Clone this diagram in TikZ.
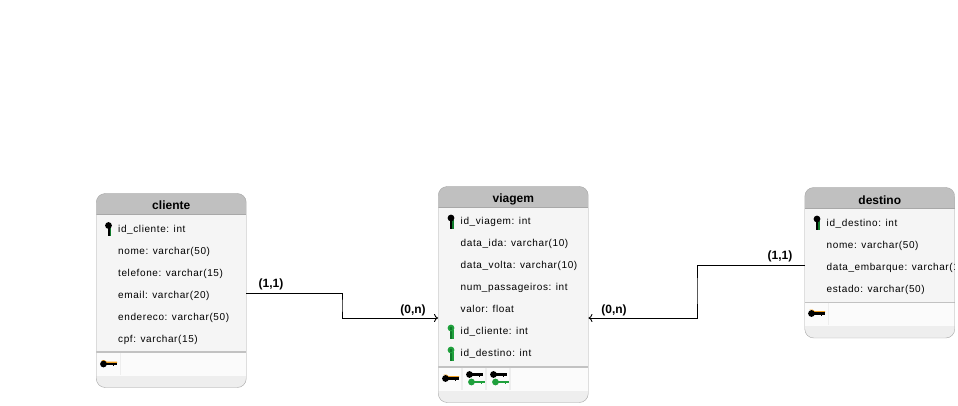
\documentclass[tikz,border=0pt]{standalone}
\usepackage{fontspec}
\setmainfont{Liberation Sans}
\newfontfamily\attrfont[LetterSpace=6]{Liberation Sans}
\usetikzlibrary{positioning, arrows.meta}

\definecolor{headgray}{HTML}{C0C0C0}
\definecolor{linegray}{HTML}{A8A8A8}
\definecolor{bodygray}{HTML}{F5F5F5}
\definecolor{footgray}{HTML}{EEEEEE}
\definecolor{cellwhite}{HTML}{FBFBFB}
\definecolor{keygreen}{HTML}{1FA03C}
\definecolor{pkgreen}{HTML}{0F7A2A}
\definecolor{keyorange}{HTML}{F0A020}

\tikzset{
  tablebox/.style={draw=linegray, fill=bodygray, rounded corners=9pt, minimum width=150pt, inner sep=0pt,
    path picture={
      \begin{scope}[sharp corners]
      \fill[headgray] (path picture bounding box.north west) rectangle ([yshift=-21pt]path picture bounding box.north east);
      \fill[linegray] ([yshift=-21pt]path picture bounding box.north west) rectangle ([yshift=-22pt]path picture bounding box.north east);
      \fill[footgray] (path picture bounding box.south west) rectangle ([yshift=12pt]path picture bounding box.south east);
      \fill[cellwhite] ([yshift=12pt]path picture bounding box.south west) rectangle ([yshift=35pt]path picture bounding box.south east);
      \fill[linegray!70] ([yshift=35pt]path picture bounding box.south west) rectangle ([yshift=36.5pt]path picture bounding box.south east);
      \end{scope}
    }},
  title/.style={font=\fontsize{12}{14}\selectfont\bfseries, inner sep=0pt},
  attr/.style={font=\attrfont\fontsize{10}{11}\selectfont, inner sep=0pt, text height=8pt, text depth=2.5pt, anchor=west},
  nextattr/.style={attr, below=22pt of #1.west, anchor=west},
  card/.style={font=\fontsize{12}{14}\selectfont\bfseries, inner sep=0pt},
  link/.style={draw=black, line width=0.9pt, -{To[length=4pt,width=8pt]}},
  cellsep/.style={draw=footgray, line width=1.5pt},
  pkey/.pic={
    \fill[pkgreen] (0.8,-2) rectangle (2.6,7);
    \fill[black] (-1,-3) rectangle (1,7);
    \fill[black] (0,-3.5) circle (3.4);
  },
  fkey/.pic={
    \fill[keygreen] (0.8,-2) rectangle (2.8,7);
    \fill[pkgreen] (-1.2,-3) rectangle (1,7);
    \fill[keygreen] (0,-3.5) circle (3.4);
    \fill[pkgreen] (-0.8,-5) rectangle (0.8,-2);
  },
  hkey/.pic={
    \fill[#1] (-4,0) circle (3.4);
    \fill[#1] (-2,-1.4) rectangle (9,1.4);
    \fill[#1] (5,1) rectangle (6.5,2.4);
  },
  hkey/.default=black,
  ukey/.pic={
    \fill[keyorange] (-6,-3.8) -- (-3,-4) -- (-1,-2.4) -- (9.5,-2.4) -- (9.5,-1) -- (-2,-1) -- cycle;
    \pic {hkey};
  }
}

\begin{document}
\begin{tikzpicture}[x=1pt, y=-1pt]
  \useasboundingbox (0,0) rectangle (958,406);

  % Tables
  \node[tablebox, minimum height=194pt] (cliente) at (171.25,290.5) {};
  \node[tablebox, minimum height=216pt] (viagem) at (513.25,294.5) {};
  \node[tablebox, minimum height=150.5pt] (destino) at (879.75,262.75) {};

  % Titles
  \node[title] (clienteTitle) at (171.25,205.5) {cliente};
  \node[title] (viagemTitle) at (513.25,199) {viagem};
  \node[title] (destinoTitle) at (879.75,200) {destino};

  % Attributes of cliente
  \node[attr] (c1) at (118,229.7) {id\_cliente: int};
  \node[nextattr=c1] (c2) {nome: varchar(50)};
  \node[nextattr=c2] (c3) {telefone: varchar(15)};
  \node[nextattr=c3] (c4) {email: varchar(20)};
  \node[nextattr=c4] (c5) {endereco: varchar(50)};
  \node[nextattr=c5] (c6) {cpf: varchar(15)};

  % Attributes of viagem
  \node[attr] (v1) at (460.5,222.2) {id\_viagem: int};
  \node[nextattr=v1] (v2) {data\_ida: varchar(10)};
  \node[nextattr=v2] (v3) {data\_volta: varchar(10)};
  \node[nextattr=v3] (v4) {num\_passageiros: int};
  \node[nextattr=v4] (v5) {valor: float};
  \node[nextattr=v5] (v6) {id\_cliente: int};
  \node[nextattr=v6] (v7) {id\_destino: int};

  % Attributes of destino, the long one is cut at the border
  \node[attr] (d1) at (826.5,223.6) {id\_destino: int};
  \node[nextattr=d1] (d2) {nome: varchar(50)};
  \begin{scope}
    \clip (destino.north west) rectangle ([xshift=-0.5pt]destino.south east);
    \node[nextattr=d2] (d3) {data\_embarque: varchar(10)};
  \end{scope}
  \node[nextattr=d3] (d4) {estado: varchar(50)};

  % Key icons
  \pic at (108.5,229) {pkey};
  \pic at (451,221.5) {pkey};
  \pic at (451,331.5) {fkey};
  \pic at (451,353.5) {fkey};
  \pic at (817,222.5) {pkey};
  \pic at (107.5,364) {ukey};
  \pic at (449.5,378.5) {ukey};
  \pic at (815.5,313.5) {ukey};
  \pic at (473.5,374.5) {hkey};
  \pic at (475.5,382) {hkey=keygreen};
  \pic at (497.5,374.5) {hkey};
  \pic at (499.5,382) {hkey=keygreen};

  % Cell borders
  \draw[cellsep] (120.5,353) -- (120.5,375);
  \draw[cellsep] (462,367.5) -- (462,390);
  \draw[cellsep] (486,367.5) -- (486,390);
  \draw[cellsep] (510,367.5) -- (510,390);
  \draw[cellsep] (828.5,302.5) -- (828.5,325);

  % Relationships
  \coordinate (clienteOut) at ([yshift=-2.5pt]cliente.east);
  \coordinate (viagemIn) at ([yshift=-23.5pt]viagem.west);
  \coordinate (viagemInR) at ([yshift=-23.5pt]viagem.east);
  \coordinate (destinoOut) at ([yshift=-2.25pt]destino.west);
  \draw[link] (clienteOut) -| (342,305.5) |- (viagemIn);
  \draw[link] (destinoOut) -| (697,290) |- (viagemInR);

  % Cardinalities
  \node[card] (cardA) at (271,284) {(1,1)};
  \node[card] (cardB) at (413,310) {(0,n)};
  \node[card] (cardC) at (614,310) {(0,n)};
  \node[card] (cardD) at (780,256) {(1,1)};
\end{tikzpicture}
\end{document}
